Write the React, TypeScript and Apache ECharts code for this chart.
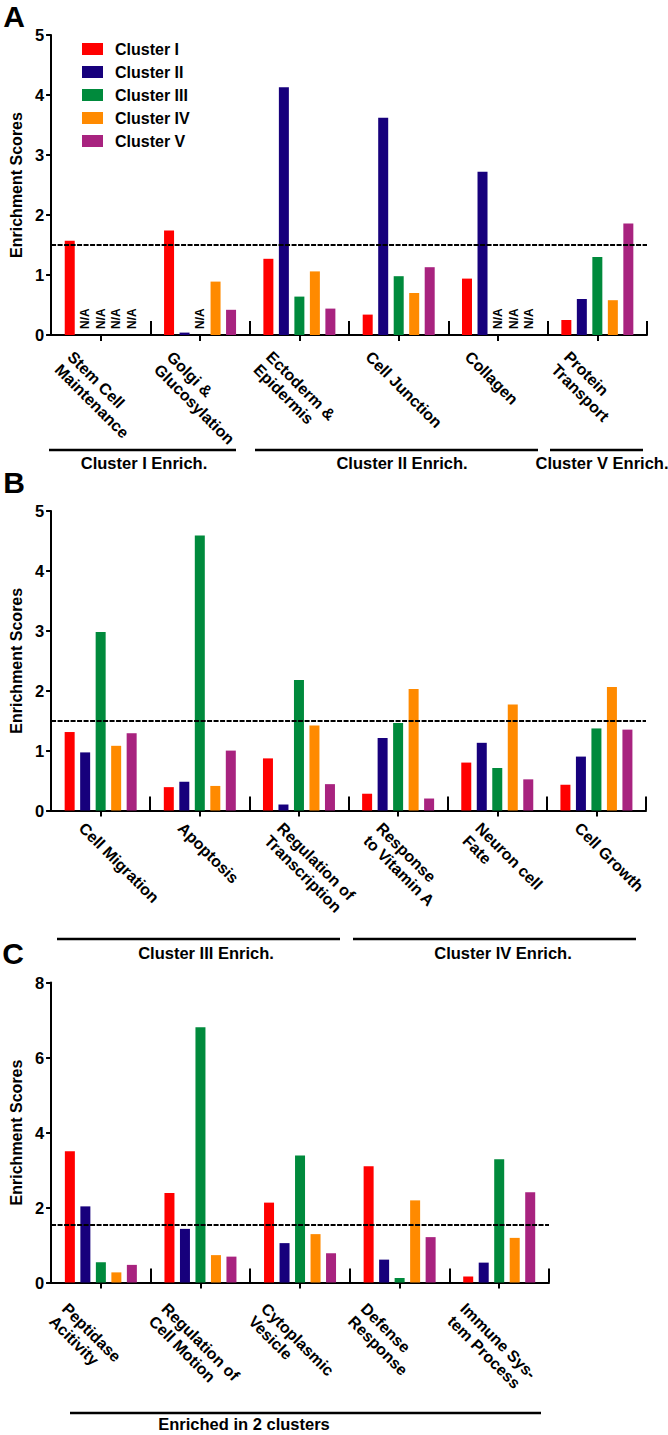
import React, { useEffect, useRef } from 'react';
import * as echarts from 'echarts';

const FONT = '"Liberation Sans", Arial, Helvetica, sans-serif';

const clusterNames = ['Cluster I', 'Cluster II', 'Cluster III', 'Cluster IV', 'Cluster V'];
const clusterColors = ['#FF0000', '#17007C', '#008A3C', '#FF8A00', '#A8237F'];

// Panel A
const categoriesA = ['Stem Cell\nMaintenance', 'Golgi &\nGlucosylation', 'Ectoderm &\nEpidermis', 'Cell Junction', 'Collagen', 'Protein\nTransport'];
const c1A = [1.57, 1.74, 1.27, 0.34, 0.94, 0.25];
const c2A = [null, 0.04, 4.13, 3.62, 2.72, 0.6];
const c3A = [null, null, 0.64, 0.98, null, 1.3];
const c4A = [null, 0.89, 1.06, 0.7, null, 0.58];
const c5A = [null, 0.42, 0.44, 1.13, null, 1.86];
const thresholdA = 1.5;
const groupsA = ['Cluster I Enrich.', 'Cluster II Enrich.', 'Cluster V Enrich.'];

// Panel B
const categoriesB = ['Cell Migration', 'Apoptosis', 'Regulation of\nTranscription', 'Response\nto Vitamin A', 'Neuron cell\nFate', 'Cell Growth'];
const c1B = [1.31, 0.39, 0.87, 0.28, 0.8, 0.43];
const c2B = [0.97, 0.48, 0.1, 1.21, 1.13, 0.9];
const c3B = [2.98, 4.59, 2.18, 1.46, 0.71, 1.37];
const c4B = [1.08, 0.41, 1.42, 2.03, 1.77, 2.06];
const c5B = [1.29, 1.0, 0.44, 0.2, 0.52, 1.35];
const thresholdB = 1.5;
const groupsB = ['Cluster III Enrich.', 'Cluster IV Enrich.'];

// Panel C
const categoriesC = ['Peptidase\nAcitivity', 'Regulation of\nCell Motion', 'Cytoplasmic\nVesicle', 'Defense\nResponse', 'Immune Sys-\ntem Process'];
const c1C = [3.5, 2.39, 2.13, 3.1, 0.16];
const c2C = [2.03, 1.43, 1.05, 0.61, 0.53];
const c3C = [0.54, 6.81, 3.39, 0.12, 3.29];
const c4C = [0.27, 0.73, 1.29, 2.19, 1.19];
const c5C = [0.47, 0.69, 0.78, 1.21, 2.41];
const thresholdC = 1.55;
const groupsC = ['Enriched in 2 clusters'];

const panels = [
  { cats: categoriesA, vals: [c1A, c2A, c3A, c4A, c5A], thr: thresholdA, yMax: 5, yInt: 1,
    grid: { left: 49, top: 35, width: 598, height: 300 }, pad: [26, 0, 0, -8], nameGap: 22 },
  { cats: categoriesB, vals: [c1B, c2B, c3B, c4B, c5B], thr: thresholdB, yMax: 5, yInt: 1,
    grid: { left: 49, top: 511, width: 597, height: 299.5 }, pad: [15, 0, 0, -3], nameGap: 22 },
  { cats: categoriesC, vals: [c1C, c2C, c3C, c4C, c5C], thr: thresholdC, yMax: 8, yInt: 2,
    grid: { left: 51, top: 982.5, width: 498, height: 300 }, pad: [33, 0, 0, -9], nameGap: 24 },
];

// annotation layout (group brackets below each panel)
const brackets = [
  { y: 450, ty: 463, segs: [[49, 236], [255, 538], [550, 643]], tx: [144, 402, 602], texts: groupsA },
  { y: 939, ty: 953, segs: [[57, 340], [353, 636]], tx: [206, 503], texts: groupsB },
  { y: 1413, ty: 1424, segs: [[70, 541]], tx: [244], texts: groupsC },
];
const panelLetters = [
  { t: 'A', x: 14, y: 16 },
  { t: 'B', x: 14, y: 482 },
  { t: 'C', x: 13, y: 953 },
];

function buildOption() {
  const grid: any[] = [];
  const xAxis: any[] = [];
  const yAxis: any[] = [];
  const series: any[] = [];
  panels.forEach((p, pi) => {
    grid.push({ ...p.grid, containLabel: false });
    xAxis.push({
      type: 'category', gridIndex: pi, data: p.cats, boundaryGap: true,
      axisLine: { show: true, onZero: false, lineStyle: { color: '#000', width: 2 } },
      axisTick: { show: true, alignWithLabel: true, length: 6, lineStyle: { color: '#000', width: 2 } },
      axisLabel: {
        interval: 0, rotate: -45, align: 'left', verticalAlign: 'top', margin: 0,
        padding: p.pad, fontSize: 16, fontWeight: 'bold', color: '#000',
        fontFamily: FONT, lineHeight: 18,
      },
      splitLine: { show: false },
    });
    yAxis.push({
      type: 'value', gridIndex: pi, min: 0, max: p.yMax, interval: p.yInt,
      name: 'Enrichment Scores', nameLocation: 'middle', nameGap: p.nameGap,
      nameTextStyle: { fontSize: 16, fontWeight: 'bold', color: '#000', fontFamily: FONT },
      axisLine: { show: true, lineStyle: { color: '#000', width: 2 } },
      axisTick: { show: true, length: 5, lineStyle: { color: '#000', width: 2 } },
      axisLabel: { margin: 7, fontSize: 16.5, fontWeight: 'bold', color: '#000', fontFamily: FONT },
      splitLine: { show: false },
    });
    p.vals.forEach((vals, ci) => {
      series.push({
        type: 'bar', name: clusterNames[ci], xAxisIndex: pi, yAxisIndex: pi,
        barWidth: 10, barGap: '55%', silent: true,
        itemStyle: { color: clusterColors[ci] },
        data: vals.map((v) => (v === null ? {
          value: 0,
          label: {
            show: true, formatter: 'N/A', position: 'insideBottom', distance: 6, rotate: 90,
            align: 'left', verticalAlign: 'middle', fontSize: 12, fontWeight: 'bold',
            color: '#000', fontFamily: FONT,
          },
        } : v)),
        markLine: ci === 0 ? {
          silent: true, symbol: 'none', label: { show: false },
          lineStyle: { color: '#000', type: [5, 1.5], width: 2 },
          data: [{ yAxis: p.thr }],
        } : undefined,
      });
    });
  });
  // separator ticks between category groups
  panels.forEach((p, pi) => {
    xAxis.push({
      type: 'category', gridIndex: pi, data: p.cats, position: 'bottom', boundaryGap: true,
      axisLine: { show: false, onZero: false },
      axisLabel: { show: false },
      axisTick: { show: true, inside: true, length: 14, interval: (i: number) => i > 0, lineStyle: { color: '#000', width: 2 } },
      splitLine: { show: false },
    });
  });

  const graphic: any[] = [];
  brackets.forEach((b) => {
    b.segs.forEach((s) => {
      graphic.push({ type: 'line', silent: true, shape: { x1: s[0], y1: b.y, x2: s[1], y2: b.y }, style: { stroke: '#000', lineWidth: 2.5 } });
    });
    b.texts.forEach((t, i) => {
      graphic.push({ type: 'text', silent: true, x: b.tx[i], y: b.ty, style: { text: t, align: 'center', verticalAlign: 'middle', fontSize: 16.5, fontWeight: 'bold', fontFamily: FONT, fill: '#000' } });
    });
  });
  panelLetters.forEach((l) => {
    graphic.push({ type: 'text', silent: true, x: l.x, y: l.y, style: { text: l.t, align: 'center', verticalAlign: 'middle', fontSize: 30, fontWeight: 'bold', fontFamily: FONT, fill: '#000' } });
  });

  return {
    animation: false,
    backgroundColor: '#fff',
    textStyle: { fontFamily: FONT },
    legend: {
      data: clusterNames, orient: 'vertical', left: 82, top: 41, padding: 0,
      itemWidth: 21, itemHeight: 12, itemGap: 7, icon: 'rect', selectedMode: false,
      textStyle: { fontSize: 16, fontWeight: 'bold', color: '#000', fontFamily: FONT, padding: [0, 0, 0, 7] },
    },
    grid, xAxis, yAxis, series, graphic,
  };
}

export default function App() {
  const ref = useRef<HTMLDivElement>(null);
  useEffect(() => {
    if (!ref.current) return;
    const chart = echarts.init(ref.current, undefined, { renderer: 'svg' });
    chart.setOption(buildOption() as any);
    return () => chart.dispose();
  }, []);
  return <div ref={ref} style={{ position: 'absolute', left: 0, top: 0, width: 668, height: 1435, background: '#fff' }} />;
}
